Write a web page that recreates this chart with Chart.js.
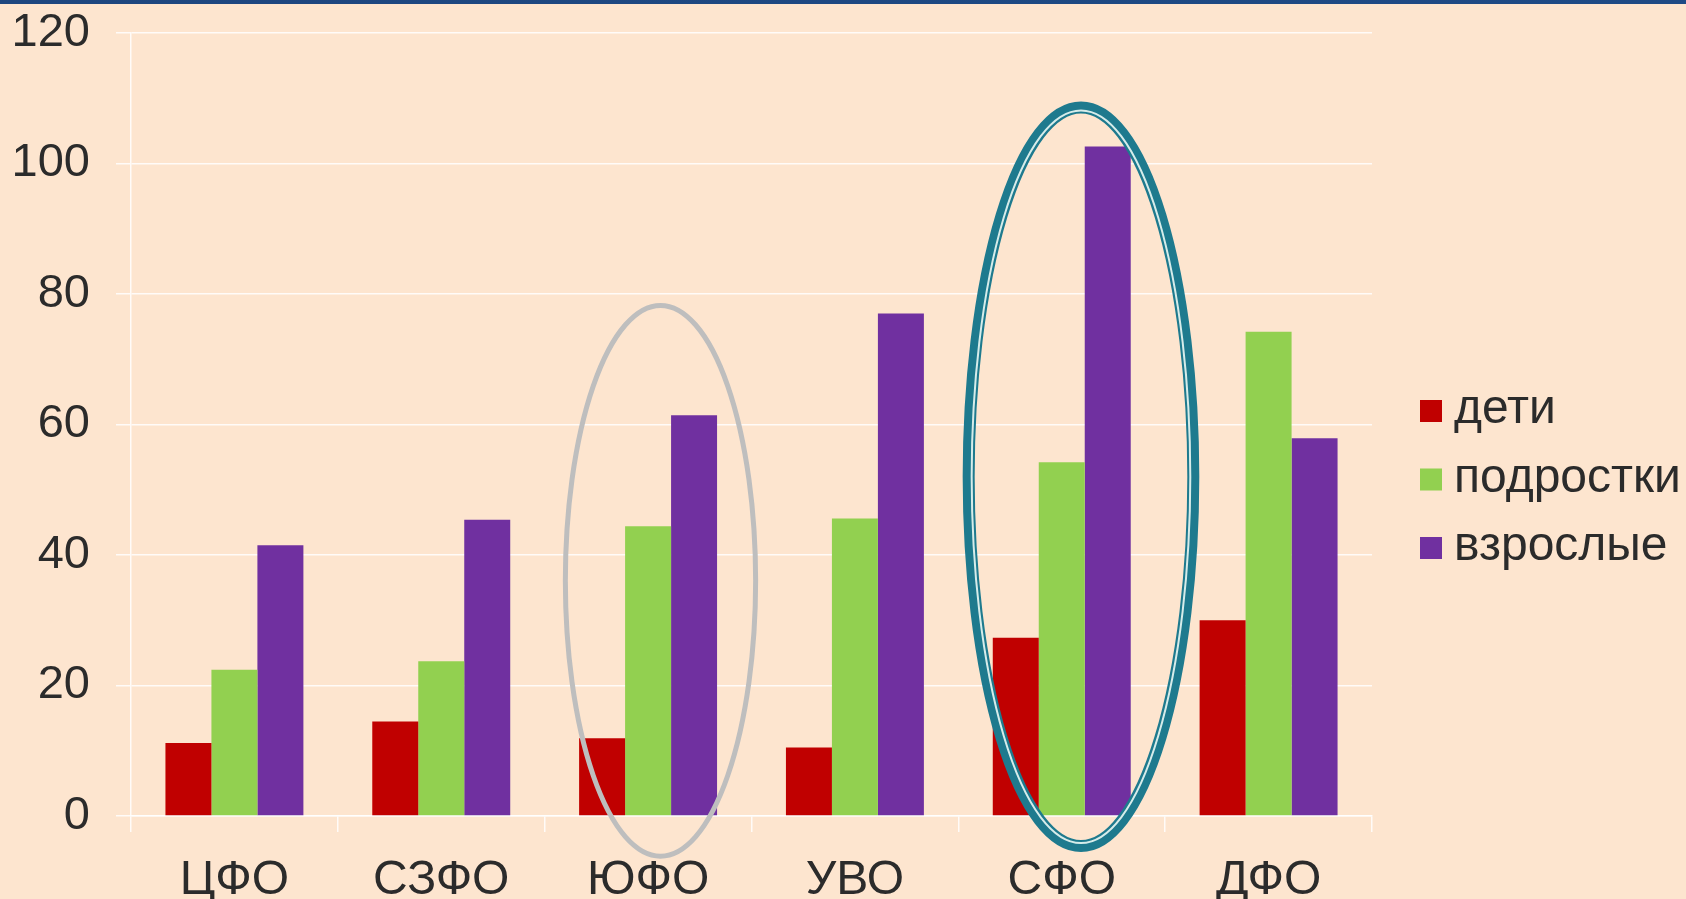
<!DOCTYPE html>
<html>
<head>
<meta charset="utf-8">
<script src="https://cdn.jsdelivr.net/npm/chart.js@4.4.1/dist/chart.umd.min.js"></script>
<style>
  html, body { margin: 0; padding: 0; background: #FDE5CF; overflow: hidden; }
  #wrap { width: 1686px; height: 899px; }
</style>
</head>
<body>
<div id="wrap"><canvas id="c" width="1686" height="899"></canvas></div>
<script>
// ---- data ----
const categories = ['ЦФО', 'СЗФО', 'ЮФО', 'УВО', 'СФО', 'ДФО'];
const seriesNames = ['дети', 'подростки', 'взрослые'];
const children = [11.2, 14.5, 11.9, 10.5, 27.3, 30.0];
const teens = [22.4, 23.7, 44.4, 45.6, 54.2, 74.2];
const adults = [41.5, 45.4, 61.4, 77.0, 102.6, 57.9];
const yTicks = [0, 20, 40, 60, 80, 100, 120];

const FONT = '"Liberation Sans", Arial, sans-serif';
const TEXT = '#2B2B2B';
const GRID = 'rgba(255,255,255,0.85)';

const decor = {
  id: 'decor',
  beforeDraw(chart) {
    const ctx = chart.ctx;
    ctx.save();
    ctx.fillStyle = '#FDE5CF';
    ctx.fillRect(0, 0, chart.width, chart.height);
    const g = ctx.createLinearGradient(0, 0, chart.width, 0);
    g.addColorStop(0, '#1D467F');
    g.addColorStop(1, '#1E4A85');
    ctx.fillStyle = g;
    ctx.fillRect(0, 0, chart.width, 4);
    ctx.restore();
  },
  afterDatasetsDraw(chart, args, opts) {
    const ctx = chart.ctx;
    const xs = chart.scales.x, ys = chart.scales.y;
    const catW = (xs.right - xs.left) / categories.length;
    opts.ellipses.forEach(e => {
      const idx = categories.indexOf(e.category);
      const cx = xs.getPixelForValue(idx) + e.dx * catW;
      const cy = ys.getPixelForValue(e.yCenter);
      const rx = e.rxCat * catW;
      const ry = Math.abs(ys.getPixelForValue(e.yCenter + e.ryVal) - cy);
      ctx.save();
      if (e.style === 'double') {
        ctx.strokeStyle = '#1E7A8E';
        ctx.lineWidth = 12;
        ctx.beginPath();
        ctx.ellipse(cx, cy, rx, ry, 0, 0, Math.PI * 2);
        ctx.stroke();
        ctx.strokeStyle = '#D6ECEA';
        ctx.lineWidth = 2;
        ctx.beginPath();
        ctx.ellipse(cx, cy, rx - 3, ry - 3, 0, 0, Math.PI * 2);
        ctx.stroke();
      } else {
        ctx.strokeStyle = '#BEBEBE';
        ctx.lineWidth = 5;
        ctx.beginPath();
        ctx.ellipse(cx, cy, rx, ry, 0, 0, Math.PI * 2);
        ctx.stroke();
      }
      ctx.restore();
    });
  },
  afterDraw(chart, args, opts) {
    const ctx = chart.ctx;
    ctx.save();
    ctx.font = '48px ' + FONT;
    ctx.textBaseline = 'alphabetic';
    ctx.textAlign = 'left';
    chart.data.datasets.forEach((ds, i) => {
      const top = opts.legendTop + i * opts.legendStep;
      ctx.fillStyle = ds.backgroundColor;
      ctx.fillRect(opts.legendX, top, 22, 22);
      ctx.fillStyle = TEXT;
      ctx.fillText(ds.label, opts.legendX + 34, top + 23);
    });
    ctx.restore();
  }
};

new Chart(document.getElementById('c'), {
  type: 'bar',
  data: {
    labels: categories,
    datasets: [
      { label: seriesNames[0], data: children, backgroundColor: '#C00000' },
      { label: seriesNames[1], data: teens, backgroundColor: '#92D050' },
      { label: seriesNames[2], data: adults, backgroundColor: '#7030A0' }
    ]
  },
  options: {
    responsive: false,
    animation: false,
    devicePixelRatio: 1,
    layout: { padding: { top: 33, right: 314, left: 0, bottom: 0 } },
    datasets: { bar: { categoryPercentage: 0.667, barPercentage: 1.0, borderWidth: 0 } },
    plugins: {
      legend: { display: false },
      tooltip: { enabled: false },
      decor: {
        legendX: 1420, legendTop: 400, legendStep: 68.5,
        ellipses: [
          { category: 'ЮФО', dx: 0.06, rxCat: 0.46, yCenter: 36.05, ryVal: 42.2, style: 'single' },
          { category: 'СФО', dx: 0.093, rxCat: 0.543, yCenter: 52.0, ryVal: 56.6, style: 'double' }
        ]
      }
    },
    scales: {
      x: {
        grid: { drawOnChartArea: false, drawTicks: true, tickLength: 16, color: GRID, lineWidth: 1.5, offset: true },
        border: { display: true, color: GRID, width: 1.5 },
        ticks: { color: TEXT, font: { family: FONT, size: 48 }, padding: 20, maxRotation: 0 },
        afterFit(s) { s.height = 83; s.paddingLeft = 0; s.paddingRight = 0; }
      },
      y: {
        min: 0, max: 120,
        afterBuildTicks(s) { s.ticks = yTicks.map(v => ({ value: v })); },
        grid: { color: GRID, lineWidth: 1.5, tickLength: 15 },
        border: { display: true, color: GRID, width: 1.5 },
        ticks: { color: TEXT, font: { family: FONT, size: 47 }, padding: 26 },
        afterFit(s) { s.width = 131; s.paddingTop = 0; s.paddingBottom = 0; }
      }
    }
  },
  plugins: [decor]
});
</script>
</body>
</html>
